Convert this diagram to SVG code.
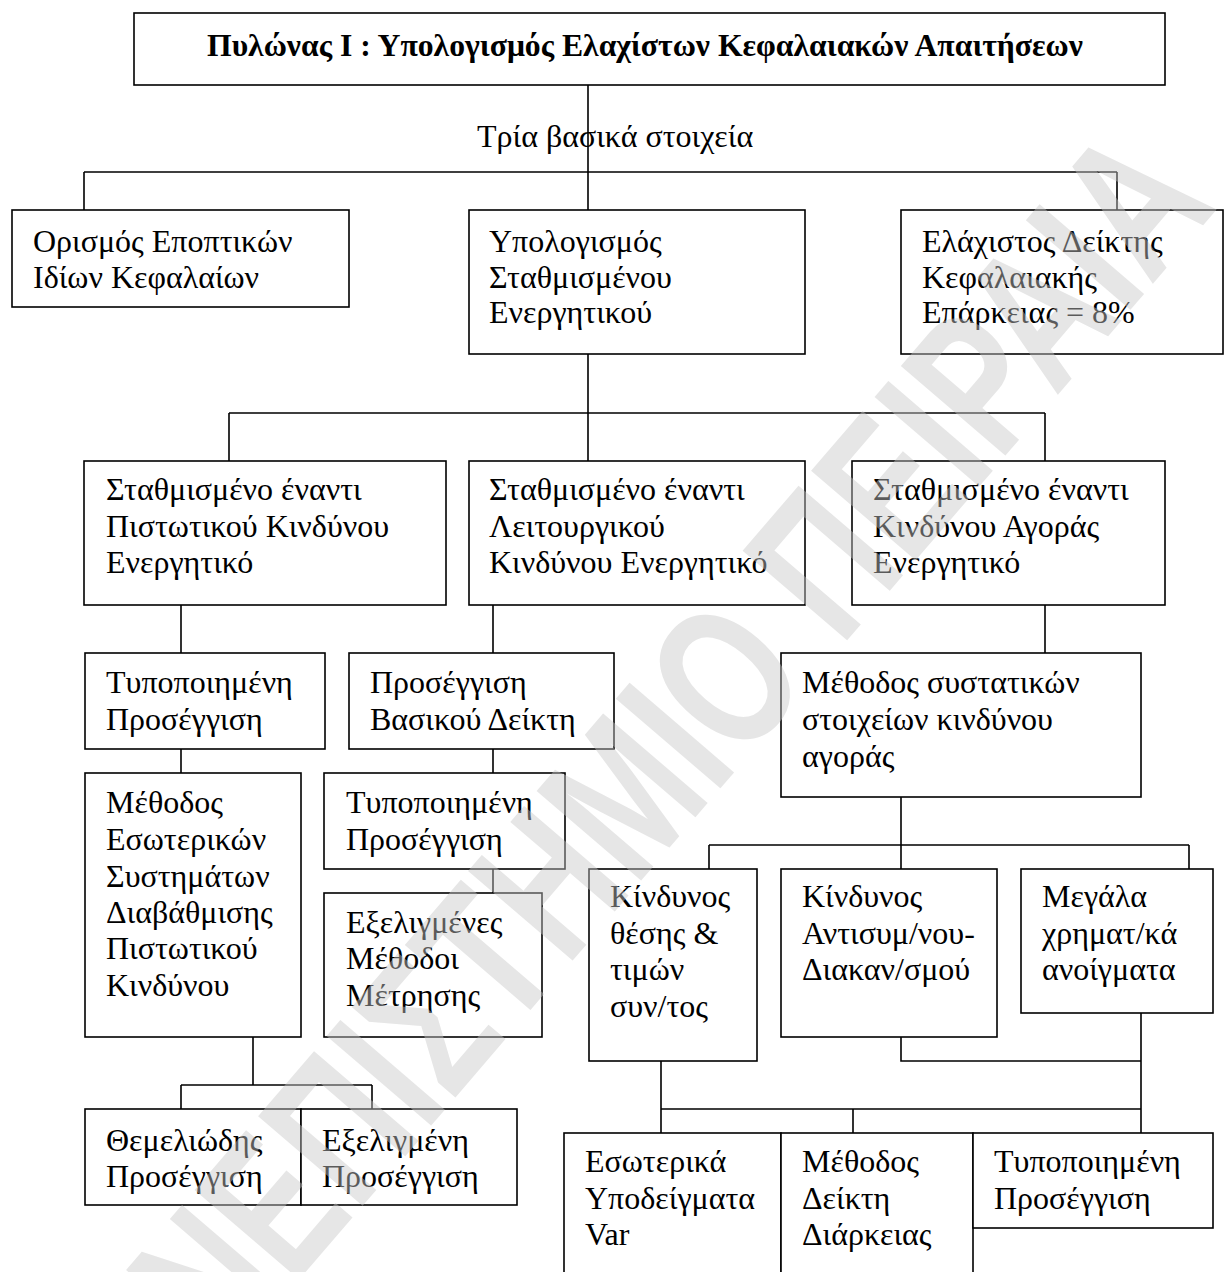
<svg xmlns="http://www.w3.org/2000/svg" width="1226" height="1272" viewBox="0 0 1226 1272">
<style>
.box{fill:#fff;stroke:#000;stroke-width:1.6}
.ln{fill:none;stroke:#000;stroke-width:1.6}
.t{font-family:"Liberation Serif","Times New Roman",serif;font-size:32px;fill:#000}
.title{font-family:"Liberation Serif","Times New Roman",serif;font-size:31.7px;font-weight:bold;fill:#000}
.wm{font-family:"Liberation Sans",Arial,sans-serif;font-size:200px;font-weight:bold;fill:#c8c8c8;opacity:0.45}
</style>
<rect width="1226" height="1272" fill="#fff"/>
<g id="connectors">
<path class="ln" d="M588 85V210M84 172H1117M84 172V210M1117 172V210"/>
<path class="ln" d="M588 354V461M229 413H1045M229 413V461M1045 413V461"/>
<path class="ln" d="M181 605V653M493 605V653M1045 605V653"/>
<path class="ln" d="M181 749V773M493 749V773M493 869V893"/>
<path class="ln" d="M901 797V869M709 845H1189M709 845V869M1189 845V869"/>
<path class="ln" d="M253 1037V1085M181 1085H372M181 1085V1109M372 1085V1109"/>
<path class="ln" d="M661 1061V1133M661 1109H1141M853 1109V1133M901 1037V1061H1141M1141 1013V1133"/>
</g>
<g id="n-title"><rect class="box" x="134" y="13" width="1031" height="72"/><text class="title" x="207" y="56">Πυλώνας Ι : Υπολογισμός Ελαχίστων Κεφαλαιακών Απαιτήσεων</text></g>
<g id="n-label"><text class="t" x="477" y="147">Τρία βασικά στοιχεία</text></g>
<g id="n-orismos"><rect class="box" x="12" y="210" width="337" height="97"/><text class="t"><tspan x="33" y="252">Ορισμός Εποπτικών</tspan><tspan x="33" y="287.5">Ιδίων Κεφαλαίων</tspan></text></g>
<g id="n-ypologismos"><rect class="box" x="469" y="210" width="336" height="144"/><text class="t"><tspan x="489" y="252">Υπολογισμός</tspan><tspan x="489" y="287.5">Σταθμισμένου</tspan><tspan x="489" y="323">Ενεργητικού</tspan></text></g>
<g id="n-elaxistos"><rect class="box" x="901" y="210" width="322" height="144"/><text class="t"><tspan x="922" y="252">Ελάχιστος Δείκτης</tspan><tspan x="922" y="287.5">Κεφαλαιακής</tspan><tspan x="922" y="323">Επάρκειας = 8%</tspan></text></g>
<g id="n-pistotikos"><rect class="box" x="84" y="461" width="362" height="144"/><text class="t"><tspan x="106" y="500">Σταθμισμένο έναντι</tspan><tspan x="106" y="536.5">Πιστωτικού Κινδύνου</tspan><tspan x="106" y="573">Ενεργητικό</tspan></text></g>
<g id="n-leitourgikos"><rect class="box" x="469" y="461" width="336" height="144"/><text class="t"><tspan x="489" y="500">Σταθμισμένο έναντι</tspan><tspan x="489" y="536.5">Λειτουργικού</tspan><tspan x="489" y="573">Κινδύνου Ενεργητικό</tspan></text></g>
<g id="n-agoras"><rect class="box" x="852" y="461" width="313" height="144"/><text class="t"><tspan x="873" y="500">Σταθμισμένο έναντι</tspan><tspan x="873" y="536.5">Κινδύνου  Αγοράς</tspan><tspan x="873" y="573">Ενεργητικό</tspan></text></g>
<g id="n-typ1"><rect class="box" x="85" y="653" width="240" height="96"/><text class="t"><tspan x="106" y="693">Τυποποιημένη</tspan><tspan x="106" y="730">Προσέγγιση</tspan></text></g>
<g id="n-vasikou"><rect class="box" x="349" y="653" width="265" height="96"/><text class="t"><tspan x="370" y="693">Προσέγγιση</tspan><tspan x="370" y="730">Βασικού Δείκτη</tspan></text></g>
<g id="n-systatikon"><rect class="box" x="781" y="653" width="360" height="144"/><text class="t"><tspan x="802" y="693">Μέθοδος συστατικών</tspan><tspan x="802" y="730">στοιχείων κινδύνου</tspan><tspan x="802" y="767">αγοράς</tspan></text></g>
<g id="n-esoterikon"><rect class="box" x="85" y="773" width="216" height="264"/><text class="t"><tspan x="106" y="813">Μέθοδος</tspan><tspan x="106" y="850">Εσωτερικών</tspan><tspan x="106" y="886.5">Συστημάτων</tspan><tspan x="106" y="923">Διαβάθμισης</tspan><tspan x="106" y="959">Πιστωτικού</tspan><tspan x="106" y="995.5">Κινδύνου</tspan></text></g>
<g id="n-typ2"><rect class="box" x="324" y="773" width="241" height="96"/><text class="t"><tspan x="346" y="813">Τυποποιημένη</tspan><tspan x="346" y="850">Προσέγγιση</tspan></text></g>
<g id="n-exeligmenes"><rect class="box" x="324" y="893" width="218" height="144"/><text class="t"><tspan x="346" y="933">Εξελιγμένες</tspan><tspan x="346" y="969">Μέθοδοι</tspan><tspan x="346" y="1005.5">Μέτρησης</tspan></text></g>
<g id="n-thesis"><rect class="box" x="589" y="869" width="168" height="192"/><text class="t"><tspan x="610" y="907">Κίνδυνος</tspan><tspan x="610" y="943.5">θέσης &amp;</tspan><tspan x="610" y="980">τιμών</tspan><tspan x="610" y="1017">συν/τος</tspan></text></g>
<g id="n-antisym"><rect class="box" x="781" y="869" width="216" height="168"/><text class="t"><tspan x="802" y="907">Κίνδυνος</tspan><tspan x="802" y="943.5">Αντισυμ/νου-</tspan><tspan x="802" y="980">Διακαν/σμού</tspan></text></g>
<g id="n-megala"><rect class="box" x="1021" y="869" width="192" height="144"/><text class="t"><tspan x="1042" y="907">Μεγάλα</tspan><tspan x="1042" y="943.5">χρηματ/κά</tspan><tspan x="1042" y="980">ανοίγματα</tspan></text></g>
<g id="n-themeliodis"><rect class="box" x="85" y="1109" width="216" height="96"/><text class="t"><tspan x="106" y="1151">Θεμελιώδης</tspan><tspan x="106" y="1187">Προσέγγιση</tspan></text></g>
<g id="n-exeligmeni"><rect class="box" x="301" y="1109" width="216" height="96"/><text class="t"><tspan x="322" y="1151">Εξελιγμένη</tspan><tspan x="322" y="1187">Προσέγγιση</tspan></text></g>
<g id="n-var"><rect class="box" x="564" y="1133" width="217" height="170"/><text class="t"><tspan x="585" y="1172">Εσωτερικά</tspan><tspan x="585" y="1208.5">Υποδείγματα</tspan><tspan x="585" y="1245">Var</tspan></text></g>
<g id="n-diarkeias"><rect class="box" x="781" y="1133" width="192" height="170"/><text class="t"><tspan x="802" y="1172">Μέθοδος</tspan><tspan x="802" y="1208.5">Δείκτη</tspan><tspan x="802" y="1245">Διάρκειας</tspan></text></g>
<g id="n-typ3"><rect class="box" x="973" y="1133" width="240" height="95"/><text class="t"><tspan x="994" y="1172">Τυποποιημένη</tspan><tspan x="994" y="1208.5">Προσέγγιση</tspan></text></g>
<g id="watermark"><text class="wm" text-anchor="end" transform="translate(1219 206.5) rotate(-49.4) scale(0.73 1)">ΠΑΝΕΠΙΣΤΗΜΙΟ ΠΕΙΡΑΙΑ</text></g>
</svg>
